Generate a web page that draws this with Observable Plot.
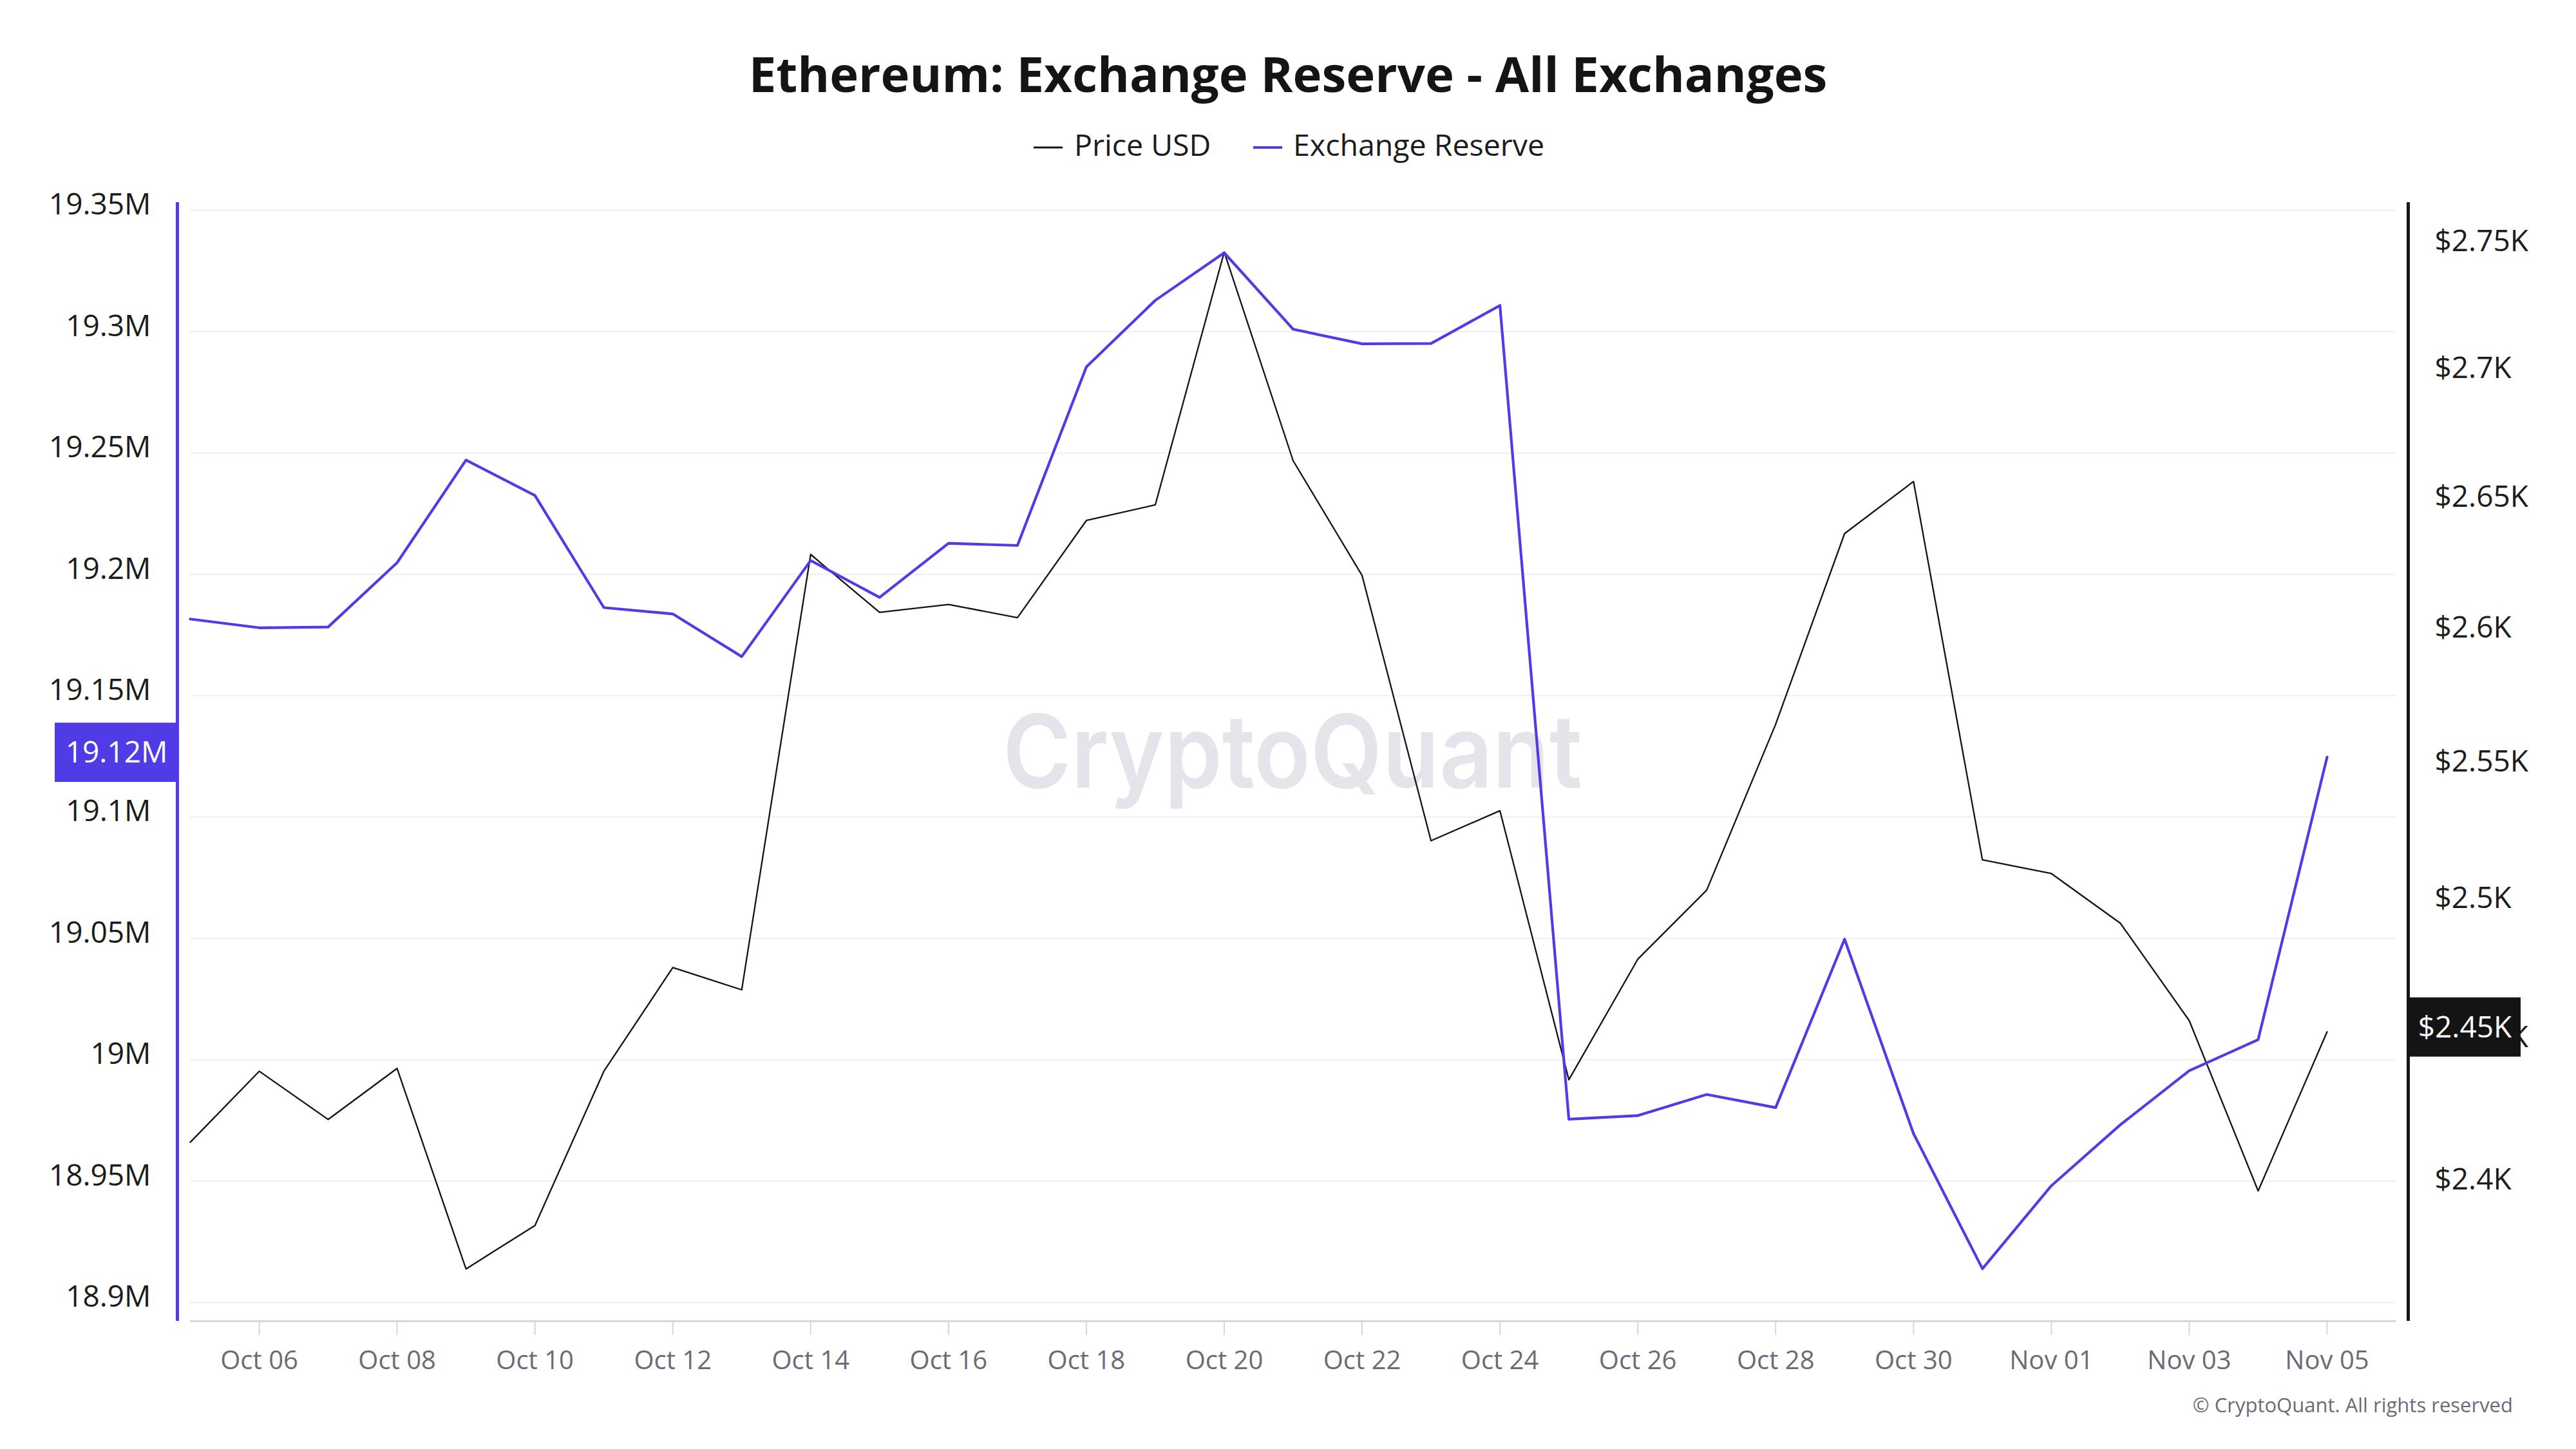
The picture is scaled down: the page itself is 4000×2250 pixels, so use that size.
<!DOCTYPE html>
<html>
<head>
<meta charset="utf-8">
<script src="https://cdn.jsdelivr.net/npm/d3@7"></script>
<script src="https://cdn.jsdelivr.net/npm/@observablehq/plot@0.6"></script>
<style>
  html, body { margin: 0; padding: 0; background: #ffffff; }
  #page { position: relative; width: 4000px; height: 2250px; overflow: hidden; background: #ffffff; }
  #page > svg, #page > .layer { position: absolute; left: 0; top: 0; }
</style>
</head>
<body>
<div id="page">
  <svg id="deco" width="4000" height="2250" font-family="'Open Sans', sans-serif">
    <text id="title" x="2000" y="143" text-anchor="middle" font-size="76" font-weight="700" fill="#141414"></text>
    <g id="legend"></g>
    <text x="2007" y="1223" text-anchor="middle" font-family="Inter, 'Open Sans', sans-serif" font-weight="600" font-size="158" fill="#e4e4eb" textLength="900" lengthAdjust="spacingAndGlyphs">CryptoQuant</text>
    <text x="3902" y="2193" text-anchor="end" font-size="31" fill="#6b6b78">© CryptoQuant. All rights reserved</text>
  </svg>
</div>
<script>
// ---------- data ----------
const chartTitle = "Ethereum: Exchange Reserve - All Exchanges";
const seriesNames = ["Price USD", "Exchange Reserve"];
const seriesColors = ["#141414", "#503ce6"];

const dates = [
  "2024-10-05","2024-10-06","2024-10-07","2024-10-08","2024-10-09","2024-10-10","2024-10-11","2024-10-12",
  "2024-10-13","2024-10-14","2024-10-15","2024-10-16","2024-10-17","2024-10-18","2024-10-19","2024-10-20",
  "2024-10-21","2024-10-22","2024-10-23","2024-10-24","2024-10-25","2024-10-26","2024-10-27","2024-10-28",
  "2024-10-29","2024-10-30","2024-10-31","2024-11-01","2024-11-02","2024-11-03","2024-11-04","2024-11-05"
];
// Exchange reserve, millions of ETH
const reserveM = [
  19.1816, 19.1780, 19.1783, 19.2048, 19.2471, 19.2325, 19.1863, 19.1837,
  19.1661, 19.2057, 19.1905, 19.2128, 19.2119, 19.2855, 19.3129, 19.3325,
  19.3010, 19.2950, 19.2951, 19.3108, 18.9755, 18.9770, 18.9857, 18.9803,
  19.0497, 18.9696, 18.9139, 18.9481, 18.9732, 18.9955, 19.0083, 19.1247
];
// ETH price, USD
const priceUSD = [
  2415, 2440, 2423, 2441, 2371, 2386, 2440, 2477,
  2469, 2630, 2608, 2611, 2606, 2643, 2649, 2748,
  2666, 2622, 2523, 2534, 2437, 2480, 2505, 2566,
  2638, 2658, 2516, 2511, 2493, 2458, 2398, 2454
];

const xTickDates = [
  "2024-10-06","2024-10-08","2024-10-10","2024-10-12","2024-10-14","2024-10-16","2024-10-18","2024-10-20",
  "2024-10-22","2024-10-24","2024-10-26","2024-10-28","2024-10-30","2024-11-01","2024-11-03","2024-11-05"
];
const reserveTicks = [18.9, 18.95, 19, 19.05, 19.1, 19.15, 19.2, 19.25, 19.3, 19.35];
const priceTicks = [2400, 2450, 2500, 2550, 2600, 2650, 2700, 2750];

const xDomain = ["2024-10-05", "2024-11-06"];
const reserveDomain = [18.8923, 19.3532];
const priceDomain = [2353.1, 2767.8];

// ---------- build ----------
const rows = dates.map((d, i) => ({date: new Date(d), reserve: reserveM[i], price: priceUSD[i]}));
const xDom = xDomain.map(d => new Date(d));
const PURPLE = seriesColors[1];
const BLACK = seriesColors[0];

document.getElementById("title").textContent = chartTitle;

// legend
(function () {
  const g = d3.select("#legend");
  const items = [
    {name: seriesNames[0], color: BLACK, mx: 1605, tx: 1668, sw: 3},
    {name: seriesNames[1], color: PURPLE, mx: 1946, tx: 2008, sw: 4}
  ];
  for (const it of items) {
    g.append("line").attr("x1", it.mx).attr("x2", it.mx + 45).attr("y1", 229).attr("y2", 229)
      .attr("stroke", it.color).attr("stroke-width", it.sw);
    g.append("text").attr("x", it.tx).attr("y", 242).attr("font-size", 46.5).attr("fill", "#1c1c1c").text(it.name);
  }
})();

const W = 4000, H = 2250;
const M = {marginTop: 314, marginBottom: 199, marginLeft: 295, marginRight: 280};
const baseStyle = {background: "transparent", fontFamily: "'Open Sans', sans-serif", overflow: "visible"};

function badge(value, label, side, fill) {
  return (index, scales, values, dims) => {
    const cy = scales.y(value) - 7;
    const h = 92;
    const w = side === "left" ? 188 : 177;
    const x0 = side === "left" ? dims.marginLeft - 22 - w : dims.width - dims.marginRight + 17;
    const g = d3.create("svg:g");
    g.append("rect").attr("x", x0).attr("y", cy - h / 2).attr("width", w).attr("height", h).attr("fill", fill);
    g.append("text").attr("x", x0 + w / 2 + 2).attr("y", cy).attr("dy", "0.35em")
      .attr("text-anchor", "middle").attr("fill", "#ffffff").attr("font-size", 46).text(label);
    return g.node();
  };
}

// Layer 1: grid + x axis
const layer1 = Plot.plot({
  width: W, height: H, ...M,
  x: {type: "utc", domain: xDom, axis: null},
  y: {domain: reserveDomain, axis: null},
  style: {...baseStyle, fontSize: "40px", color: "#6b6b78"},
  marks: [
    Plot.gridY(reserveTicks, {stroke: "#efeff2", strokeOpacity: 1, strokeWidth: 2}),
    Plot.ruleY([reserveDomain[0]], {stroke: "#d6d6de", strokeWidth: 3}),
    Plot.axisX(xTickDates.map(d => new Date(d)), {
      tickFormat: d3.utcFormat("%b %d"), tickSize: 22, tickPadding: 24,
      stroke: "#d6d6de", strokeWidth: 2, fill: "#6b6b78", label: null
    })
  ]
});

// Layer 2: price (log scale, right axis)
const lastPrice = priceUSD[priceUSD.length - 1];
const layer2 = Plot.plot({
  width: W, height: H, ...M,
  x: {type: "utc", domain: xDom, axis: null},
  y: {type: "log", domain: priceDomain},
  style: {...baseStyle, fontSize: "46px", color: "#1c1c1c"},
  marks: [
    Plot.lineY(rows, {x: "date", y: "price", stroke: BLACK, strokeWidth: 2.3, strokeLinejoin: "round"}),
    Plot.ruleX([xDom[1]], {dx: 19, stroke: "#161616", strokeWidth: 5}),
    Plot.axisY(priceTicks, {anchor: "right", tickFormat: v => `$${v / 1000}K`, tickSize: 0, tickPadding: 60, dy: -8, label: null}),
    badge(lastPrice, `$${(lastPrice / 1000).toFixed(2)}K`, "right", "#141414")
  ]
});

// Layer 3: reserve (linear, left axis)
const lastReserve = reserveM[reserveM.length - 1];
const layer3 = Plot.plot({
  width: W, height: H, ...M,
  x: {type: "utc", domain: xDom, axis: null},
  y: {domain: reserveDomain},
  style: {...baseStyle, fontSize: "46px", color: "#1c1c1c"},
  marks: [
    Plot.lineY(rows, {x: "date", y: "reserve", stroke: PURPLE, strokeWidth: 4.2, strokeLinejoin: "round"}),
    Plot.ruleX([xDom[0]], {dx: -20, stroke: PURPLE, strokeWidth: 5}),
    Plot.axisY(reserveTicks, {anchor: "left", tickFormat: v => `${v}M`, tickSize: 0, tickPadding: 61, dy: -8, label: null}),
    badge(lastReserve, `${lastReserve.toFixed(2)}M`, "left", PURPLE)
  ]
});

const page = document.getElementById("page");
for (const el of [layer1, layer2, layer3]) {
  el.classList.add("layer");
  page.appendChild(el);
}
</script>
</body>
</html>
